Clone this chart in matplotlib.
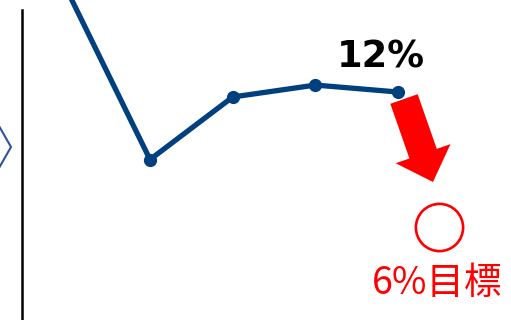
import matplotlib.pyplot as plt
from matplotlib.patches import FancyArrow

# rate per period (%), first point sits above the visible area
periods = [0, 1, 2, 3, 4]
rates = [16.5, 9.0, 11.78, 12.31, 12.0]
target_pos = 4.5
target_rate = 6.0
last_label = "12%"
target_label = "6%目標"

line_color = "#00407f"
red = "#ff0000"

fig = plt.figure(figsize=(5.11, 3.2), dpi=100)

ax = fig.add_axes([0, 0, 1, 1])
ax.plot(periods, rates, "-o", color=line_color, linewidth=3.8,
        markersize=8.5, solid_capstyle="round", clip_on=True)
ax.plot([target_pos], [target_rate], "o", markersize=34,
        markerfacecolor="none", markeredgecolor=red, markeredgewidth=1.9)
ax.set_xlim(-0.814, 5.365)
ax.set_ylim(1.87, 16.09)
ax.axis("off")

# overlay in pixel units for the decorations
ov = fig.add_axes([0, 0, 1, 1])
ov.set_xlim(0, 511)
ov.set_ylim(320, 0)
ov.axis("off")
ov.patch.set_alpha(0)

ov.plot([22, 22], [10, 320], color="black", linewidth=1.8)
ov.plot([-1, 11, -1], [126, 147, 168], color="#2f5597", linewidth=1.5)

ov.add_patch(FancyArrow(404, 99, 29, 83, width=29, head_width=58,
                        head_length=30, length_includes_head=True,
                        color=red, linewidth=0))

ov.text(381, 68, last_label, ha="center", va="baseline",
        fontsize=26.5, fontweight="bold", family="DejaVu Sans", color="black")
ov.text(437, 294, target_label, ha="center", va="baseline",
        fontsize=27, family=["Noto Sans CJK JP", "DejaVu Sans"], color=red)

fig.savefig("out.png", dpi=100)
